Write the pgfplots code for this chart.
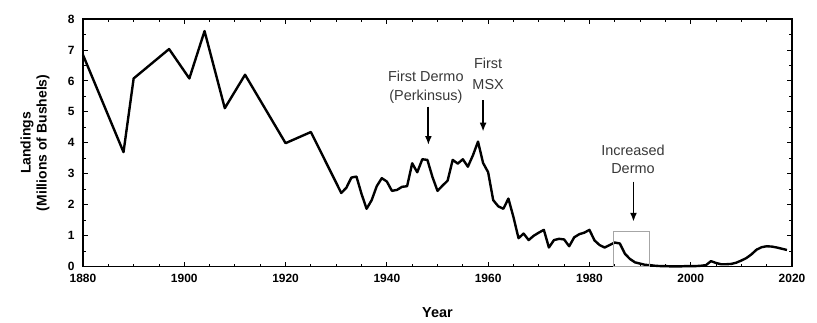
\documentclass[border=0pt]{standalone}
\usepackage{fontspec}
\setmainfont{Liberation Sans}
\usepackage{pgfplots}
\pgfplotsset{compat=1.18}
\usetikzlibrary{arrows.meta}
\definecolor{anno}{rgb}{0.22,0.22,0.22}
\begin{document}
\begin{tikzpicture}
\begin{axis}[
  at={(0,0)}, anchor=south west,
  scale only axis, width=709bp, height=247.7bp,
  xmin=1880, xmax=2020, ymin=0, ymax=8,
  xtick={1880,1900,...,2020}, minor x tick num=3,
  ytick={0,1,...,8}, minor y tick num=1,
  tick align=inside, tick pos=both,
  major tick length=5bp, minor tick length=3bp,
  every tick/.style={black, line width=0.9pt},
  axis line style={line width=1.3pt},
  /pgf/number format/assume math mode=true,
  /pgf/number format/1000 sep={},
  ticklabel style={font=\bfseries\fontsize{12}{14}\selectfont},
  xticklabel style={yshift=-4bp},
  yticklabel style={xshift=-5bp},
  xlabel={Year},
  ylabel={Landings\\(Millions of Bushels)},
  xlabel style={font=\bfseries\fontsize{14.5}{16}\selectfont, at={(axis description cs:0.5,-0.186)}, anchor=center},
  ylabel style={font=\bfseries\fontsize{14}{16}\selectfont, align=center, at={(axis description cs:-0.0677,0.5)}, anchor=center},
  clip=false,
]
\addplot[black, line width=2.4pt, line join=round] coordinates {
(1880,6.84) (1888,3.70) (1890,6.08) (1897,7.03) (1901,6.08) (1904,7.61)
(1908,5.12) (1912,6.20) (1920,3.99) (1925,4.35) (1931,2.38) (1932,2.55)
(1933,2.88) (1934,2.91) (1935,2.35) (1936,1.87) (1937,2.15) (1938,2.60)
(1939,2.86) (1940,2.75) (1941,2.45) (1942,2.48) (1943,2.58) (1944,2.60)
(1945,3.34) (1946,3.05) (1947,3.47) (1948,3.45) (1949,2.90) (1950,2.45)
(1951,2.62) (1952,2.78) (1953,3.45) (1954,3.33) (1955,3.47) (1956,3.23)
(1957,3.60) (1958,4.04) (1959,3.35) (1960,3.05) (1961,2.15) (1962,1.95)
(1963,1.87) (1964,2.20) (1965,1.60) (1966,0.92) (1967,1.07) (1968,0.86)
(1969,1.00) (1970,1.10) (1971,1.19) (1972,0.62) (1973,0.86) (1974,0.90)
(1975,0.88) (1976,0.66) (1977,0.95) (1978,1.05) (1979,1.10) (1980,1.19)
(1981,0.85) (1982,0.70) (1983,0.62) (1984,0.70) (1985,0.78) (1986,0.75)
(1987,0.42) (1988,0.25) (1989,0.14) (1990,0.10) (1991,0.06) (1992,0.05)
(1993,0.03) (1994,0.02) (1995,0.02) (1996,0.01) (1997,0.01) (1998,0.01)
(1999,0.02) (2000,0.02) (2001,0.02) (2002,0.03) (2003,0.05) (2004,0.18)
(2005,0.12) (2006,0.08) (2007,0.08) (2008,0.09) (2009,0.13) (2010,0.20)
(2011,0.28) (2012,0.40) (2013,0.55) (2014,0.63) (2015,0.66) (2016,0.65)
(2017,0.62) (2018,0.58) (2019,0.54)
};
\draw[gray!70, line width=0.5pt] (axis cs:1984.7,0.03) rectangle (axis cs:1991.8,1.16);
\draw[black, line width=1.8pt, -{Latex[length=9bp,width=7bp]}] (axis cs:1948.2,5.17) -- (axis cs:1948.2,3.93);
\draw[black, line width=1.8pt, -{Latex[length=9bp,width=7bp]}] (axis cs:1959.0,5.38) -- (axis cs:1959.0,4.36);
\draw[black, line width=1.8pt, -{Latex[length=9bp,width=7bp]}] (axis cs:1988.7,2.75) -- (axis cs:1988.7,1.45);
\node[anno, align=center, font=\fontsize{14.5}{19.5}\selectfont] at (axis cs:1947.7,5.80) {First Dermo\\(Perkinsus)};
\node[anno, align=center, font=\fontsize{14.5}{21.5}\selectfont] at (axis cs:1960.0,6.22) {First\\MSX};
\node[anno, align=center, font=\fontsize{14.5}{18.5}\selectfont] at (axis cs:1988.6,3.47) {Increased\\Dermo};
\end{axis}
\pgfresetboundingbox
\useasboundingbox (-83bp,-56.3bp) rectangle (734bp,266.7bp);
\end{tikzpicture}
\end{document}
